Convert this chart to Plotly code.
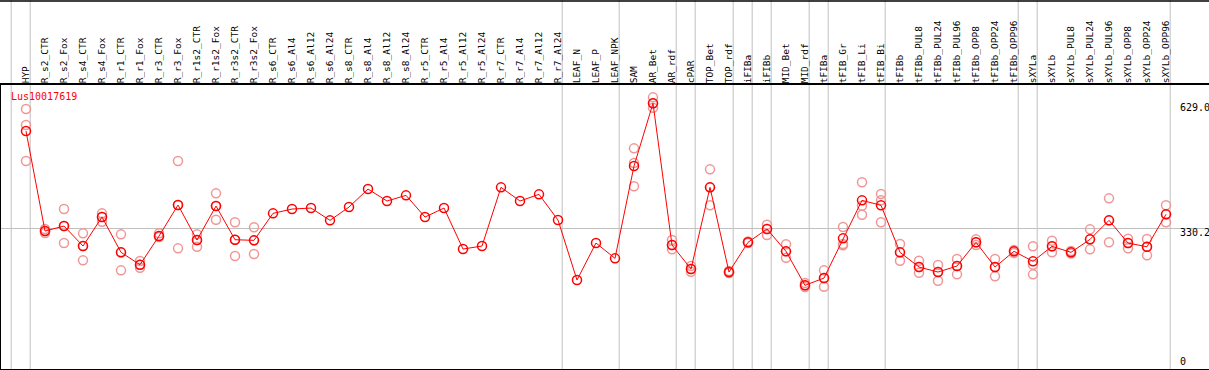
import plotly.graph_objects as go

gene_id = "Lus10017619"

categories = [
    "HYP", "R_s2_CTR", "R_s2_Fox", "R_s4_CTR", "R_s4_Fox", "R_r1_CTR", "R_r1_Fox",
    "R_r3_CTR", "R_r3_Fox", "R_r1s2_CTR", "R_r1s2_Fox", "R_r3s2_CTR", "R_r3s2_Fox",
    "R_s6_CTR", "R_s6_Al4", "R_s6_Al12", "R_s6_Al24", "R_s8_CTR", "R_s8_Al4",
    "R_s8_Al12", "R_s8_Al24", "R_r5_CTR", "R_r5_Al4", "R_r5_Al12", "R_r5_Al24",
    "R_r7_CTR", "R_r7_Al4", "R_r7_Al12", "R_r7_Al24", "LEAF_N", "LEAF_P", "LEAF_NPK",
    "SAM", "AR_Bet", "AR_rdf", "cPAR", "TOP_Bet", "TOP_rdf", "iFIBa", "iFIBb",
    "MID_Bet", "MID_rdf", "tFIBa", "tFIB_Gr", "tFIB_Li", "tFIB_Bi", "tFIBb",
    "tFIBb_PUL8", "tFIBb_PUL24", "tFIBb_PUL96", "tFIBb_OPP8", "tFIBb_OPP24",
    "tFIBb_OPP96", "sXYLa", "sXYLb", "sXYLb_PUL8", "sXYLb_PUL24", "sXYLb_PUL96",
    "sXYLb_OPP8", "sXYLb_OPP24", "sXYLb_OPP96",
]

means = [
    562.5, 323.0, 335.0, 287.1, 356.5, 272.0, 242.3, 311.0, 385.3, 301.5,
    382.9, 302.2, 300.7, 365.4, 375.7, 378.1, 348.6, 380.5, 423.6, 394.9,
    408.5, 356.5, 378.1, 279.9, 287.1, 427.7, 394.9, 410.9, 349.4, 205.7,
    294.3, 257.6, 478.7, 629.0, 289.5, 232.0, 427.7, 224.8, 296.0, 327.8,
    274.4, 193.0, 210.4, 305.5, 396.5, 384.6, 272.0, 236.8, 224.8, 239.2,
    296.0, 236.8, 274.4, 250.4, 286.4, 272.0, 303.1, 348.6, 294.3, 285.4,
    363.0,
]

N = None
rep_a = [
    615.2, 327.8, 375.7, 317.5, 365.4, 315.1, 251.2, 317.5, 490.7, 315.1,
    413.3, 343.9, 331.9, N, N, N, N, N, N, N,
    N, N, N, N, N, N, N, N, N, N,
    N, N, 521.1, 643.2, 301.5, 239.2, 470.8, 227.2, 297.9, 338.1,
    291.2, 198.5, 228.9, 332.6, 439.7, 411.6, 291.9, 251.9, 241.6, 256.0,
    303.1, 256.0, 277.5, 286.4, 299.8, 275.1, 327.1, 401.3, 304.6, 303.9,
    384.6,
]
rep_b = [
    576.9, 323.0, 335.0, 287.1, 356.5, 272.0, 242.3, 311.0, 385.3, 301.5,
    382.9, 302.2, 300.7, N, N, N, N, N, N, N,
    N, N, N, N, N, N, N, N, N, N,
    N, N, 485.9, 629.0, 289.5, 232.0, 427.7, 224.8, 296.0, 327.8,
    274.4, 193.0, 210.4, 291.9, 383.6, 396.5, 272.0, 236.8, 224.8, 239.2,
    296.0, 236.8, 274.4, 242.3, 286.4, 272.0, 303.1, 348.6, 294.3, 285.4,
    363.0,
]
rep_c = [
    490.7, 318.2, 294.3, 252.8, 345.3, 228.9, 235.1, 308.6, 281.6, 285.4,
    350.1, 263.1, 267.9, N, N, N, N, N, N, N,
    N, N, N, N, N, N, N, N, N, N,
    N, N, 430.1, 618.3, 279.2, 225.5, 384.6, 222.4, 294.3, 313.4,
    259.1, 188.9, 189.6, 288.8, 362.1, 343.9, 251.9, 223.1, 204.0, 219.3,
    289.5, 214.5, 270.3, 219.3, 272.0, 269.1, 279.2, 296.0, 281.6, 264.8,
    343.9,
]

# group separators are drawn just after these category indices
separators_after = [-1, 0, 28, 31, 34, 35, 37, 38, 39, 41, 42, 45, 52, 53, 60]

axis_labels = [629.0, 330.2, 0]
grid_value = 330.2

x_idx = list(range(len(categories)))

rx, ry = [], []
for reps in (rep_a, rep_b, rep_c):
    for i, v in enumerate(reps):
        if v is not None:
            rx.append(i)
            ry.append(v)

MONO = "DejaVu Sans Mono"
RED = "#ff0000"
PALE = "rgb(240,150,150)"
GRID = "#c0c0c0"

fig = go.Figure()
fig.add_trace(go.Scatter(
    x=rx, y=ry, mode="markers",
    marker=dict(symbol="circle-open", size=9, color=PALE, line=dict(width=1.5, color=PALE)),
    hoverinfo="skip", showlegend=False,
))
fig.add_trace(go.Scatter(
    x=x_idx, y=means, mode="lines+markers",
    line=dict(color=RED, width=1),
    marker=dict(symbol="circle-open", size=9, color=RED, line=dict(width=1.5, color=RED)),
    showlegend=False,
))

top_paper = 1 + 85 / 284
for s in separators_after:
    fig.add_shape(type="line", xref="x", yref="paper", x0=s + 0.22, x1=s + 0.22,
                  y0=-0.01, y1=top_paper + 0.01, line=dict(color=GRID, width=1), layer="below")

# top border of whole frame
fig.add_shape(type="line", xref="paper", yref="paper", x0=-0.01, x1=1.01,
              y0=top_paper - 1 / 284, y1=top_paper - 1 / 284,
              line=dict(color="black", width=1.5))

for v in axis_labels:
    shift = 4 if v == 0 else -4
    fig.add_annotation(x=(1178 - 1) / 1208, xref="paper", y=v, yref="y",
                       text=f"{v:.1f}" if v != 0 else "0", showarrow=False,
                       xanchor="left", yanchor="middle", yshift=shift,
                       font=dict(family=MONO, size=10, color="black"))

fig.add_annotation(x=(9 - 1) / 1208, xref="paper", y=1 - (97 - 85) / 284, yref="paper",
                   text=gene_id, showarrow=False, xanchor="left", yanchor="middle",
                   font=dict(family=MONO, size=10, color=RED))

fig.update_layout(
    width=1209, height=370,
    margin=dict(l=1, r=0, t=85, b=1, pad=0),
    paper_bgcolor="white", plot_bgcolor="white",
    xaxis=dict(
        range=[-25 / 19, -25 / 19 + 1208 / 19],
        side="top", tickmode="array", tickvals=x_idx, ticktext=categories,
        tickangle=-90, tickfont=dict(family=MONO, size=9.5, color="black"),
        ticks="", ticklabelstandoff=-2, showgrid=False, zeroline=False,
        showline=True, linecolor="black", linewidth=1.5, mirror=True,
        fixedrange=True,
    ),
    yaxis=dict(
        range=[-7.4, 672.8], tickmode="array", tickvals=[grid_value],
        showticklabels=False, showgrid=True, gridcolor=GRID, gridwidth=1,
        zeroline=False, ticks="",
        showline=True, linecolor="black", linewidth=1.5,
        fixedrange=True,
    ),
)

fig.write_html("out.html", config={"displayModeBar": False},
               post_script="document.body.style.margin='0';")
